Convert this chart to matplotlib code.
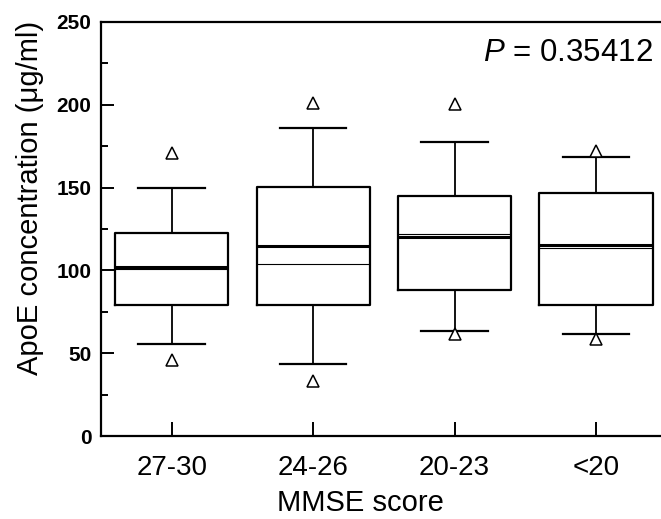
import numpy as np
import matplotlib.pyplot as plt
from matplotlib.ticker import MultipleLocator

plt.rcParams['font.family'] = ['Liberation Sans', 'DejaVu Sans']
plt.rcParams['mathtext.fontset'] = 'custom'
plt.rcParams['mathtext.it'] = 'Liberation Sans:italic'
plt.rcParams['mathtext.rm'] = 'Liberation Sans'

# Datos
grupos = ['27-30', '24-26', '20-23', '<20']
q1 = [78.9, 78.9, 88.2, 79.3]
q3 = [122.4, 150.6, 145.1, 146.7]
mediana = [102.2, 114.5, 120.4, 115.2]
media = [100.8, 103.7, 122.2, 113.7]
bigote_inf = [55.8, 43.7, 63.4, 61.6]
bigote_sup = [149.6, 185.8, 177.3, 168.3]
punto_inf = [45.9, 33.4, 61.6, 58.6]
punto_sup = [170.9, 200.8, 200.3, 172.3]

stats = []
for i in range(len(grupos)):
    stats.append({
        'label': grupos[i],
        'q1': q1[i], 'q3': q3[i], 'med': mediana[i], 'mean': media[i],
        'whislo': bigote_inf[i], 'whishi': bigote_sup[i],
        'fliers': [punto_inf[i], punto_sup[i]],
    })

fig = plt.figure(figsize=(6.61, 5.19), dpi=100)
ax = fig.add_axes([101/661, 83/519, 560/661, 414/519])

ax.bxp(stats, positions=[1, 2, 3, 4], widths=0.8, capwidths=0.47,
       showmeans=True, meanline=True, patch_artist=False,
       boxprops=dict(color='black', linewidth=1.6),
       whiskerprops=dict(color='black', linewidth=1.3),
       capprops=dict(color='black', linewidth=1.6),
       medianprops=dict(color='black', linewidth=2.2),
       meanprops=dict(color='black', linewidth=0.8, linestyle='-'),
       flierprops=dict(marker='^', markersize=9, markerfacecolor='white',
                       markeredgecolor='black', markeredgewidth=1.1))

ax.set_xlim(0.5, 4.46)
ax.set_ylim(0, 250)
ax.yaxis.set_major_locator(MultipleLocator(50))
ax.yaxis.set_minor_locator(MultipleLocator(25))

for s in ['left', 'bottom', 'top']:
    ax.spines[s].set_linewidth(1.6)
ax.spines['right'].set_visible(False)

ax.tick_params(axis='y', which='major', direction='in', length=9, width=1.4,
               labelsize=15, pad=7)
ax.tick_params(axis='y', which='minor', direction='in', length=5, width=1.4)
ax.tick_params(axis='x', which='major', direction='in', length=10, width=1.4,
               labelsize=20, pad=14)
for lab in ax.get_yticklabels():
    lab.set_fontweight('bold')

ax.set_xlabel('MMSE score', fontsize=21)
ax.xaxis.set_label_coords((360 - 101) / 560, -0.128)
ax.set_ylabel('ApoE concentration (μg/ml)', fontsize=21)
ax.yaxis.set_label_coords(-0.102, 0.575)

ax.text(0.985, 0.925, r'$\mathit{P}$' + ' = 0.35412', transform=ax.transAxes,
        ha='right', va='center', fontsize=22.5)

fig.savefig('out.png', dpi=100)
